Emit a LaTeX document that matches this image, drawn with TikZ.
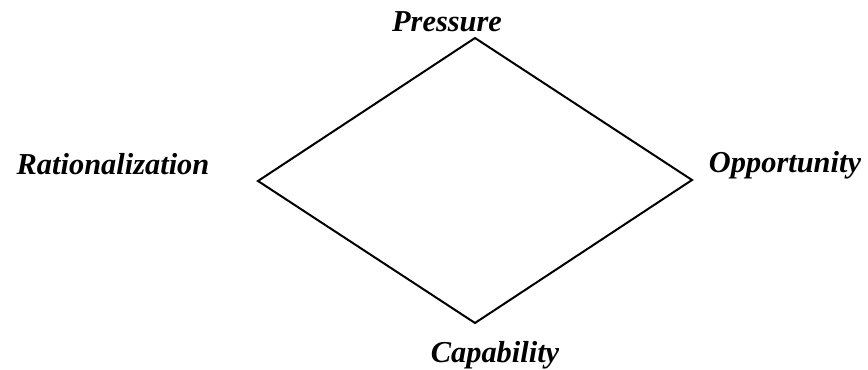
\documentclass[tikz,border=0pt]{standalone}
\usepackage{fontspec}
\setmainfont{Liberation Serif}
\begin{document}
\begin{tikzpicture}[x=0.75pt,y=-0.75pt,
    corner/.style={font=\fontsize{22.8}{27}\selectfont\bfseries\itshape, anchor=base, inner sep=0pt}]
    \useasboundingbox (0,0) rectangle (868,370);

    % diamond corners
    \coordinate (top) at (475,38);
    \coordinate (right) at (692,180);
    \coordinate (bottom) at (475,323);
    \coordinate (left) at (258,181);
    \draw[line width=1.5pt, line join=miter] (top) -- (right) -- (bottom) -- (left) -- cycle;

    % labels
    \node[corner] (pressure) at (447,32) {Pressure};
    \node[corner] (opportunity) at (785,173) {Opportunity};
    \node[corner] (rational) at (113,175) {Rationalization};
    \node[corner] (capability) at (495,363) {Capability};
\end{tikzpicture}
\end{document}
